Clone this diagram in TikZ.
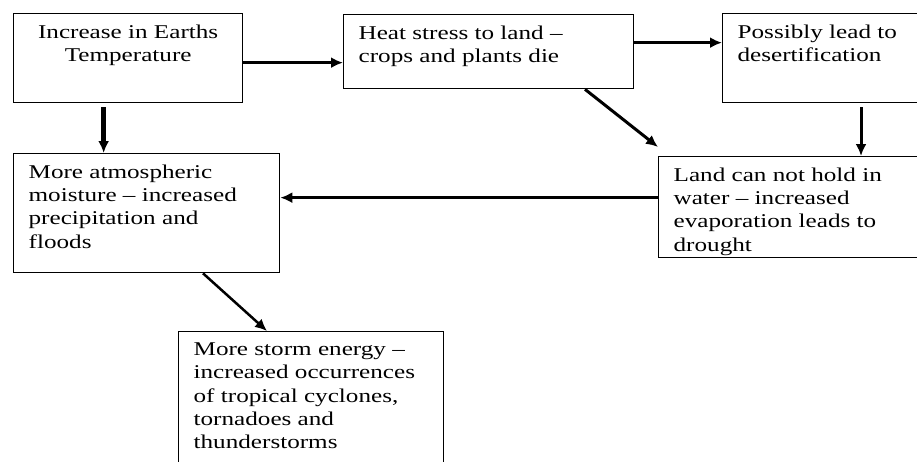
\documentclass[tikz,border=0pt]{standalone}
\usepackage{fontspec}
\setmainfont{Liberation Serif}[FakeStretch=1.29]
\usetikzlibrary{arrows.meta}
\tikzset{
  box/.style={draw, line width=1.3pt, anchor=north west, inner xsep=15pt, inner ysep=11pt,
    font=\fontsize{19.5}{23.3}\selectfont},
  link/.style={->, line width=#1},
}
\newcommand{\boxtext}[3]{\parbox[t][#2pt][t]{#1pt}{\raggedright #3}}
\begin{document}
\begin{tikzpicture}[x=1pt, y=-1pt, >={Latex[length=12pt,width=11pt]}]
\clip (0,0) rectangle (917,461);
\fill[white] (0,0) rectangle (917,461);
\node[box] (temp) at (13,13) {\boxtext{199}{67}{\centering Increase in Earths\\ Temperature}};
\node[box] (heat) at (343,14) {\boxtext{260}{52}{Heat stress to land --\\ crops and plants die}};
\node[box] (desert) at (722,13) {\boxtext{210}{67}{Possibly lead to\\ desertification}};
\node[box] (drought) at (658,156) {\boxtext{230}{79}{Land can not hold in\\ water -- increased\\ evaporation leads to\\ drought}};
\node[box] (moist) at (13,153) {\boxtext{236}{97}{More atmospheric\\ moisture -- increased\\ precipitation and\\ floods}};
\node[box] (storm) at (178,331) {\boxtext{235}{118}{More storm energy --\\ increased occurrences\\ of tropical cyclones,\\ tornadoes and\\ thunderstorms}};
\draw[link=2.5pt] ([yshift=-4.5pt]temp.east) -- ([yshift=-4.5pt]temp.east -| heat.west);
\draw[link=3.5pt] ([yshift=9pt]heat.east) -- ([yshift=9pt]heat.east -| desert.west);
\draw[link=5pt] ([xshift=-24.5pt,yshift=-4pt]temp.south) -- ([xshift=-24.5pt]temp.south |- moist.north);
\draw[link=3pt] ([xshift=139pt,yshift=-4pt]desert.south west) -- ([xshift=139pt]desert.south west |- drought.north);
\draw[link=3pt] ([xshift=242pt]heat.south west) -- ([yshift=9pt]drought.north west);
\draw[link=2.5pt] ([yshift=9.5pt]drought.west) -- ([yshift=9.5pt]drought.west -| moist.east);
\draw[link=2.5pt] ([xshift=190pt]moist.south west) -- ([xshift=89pt]storm.north west);
\end{tikzpicture}
\end{document}
